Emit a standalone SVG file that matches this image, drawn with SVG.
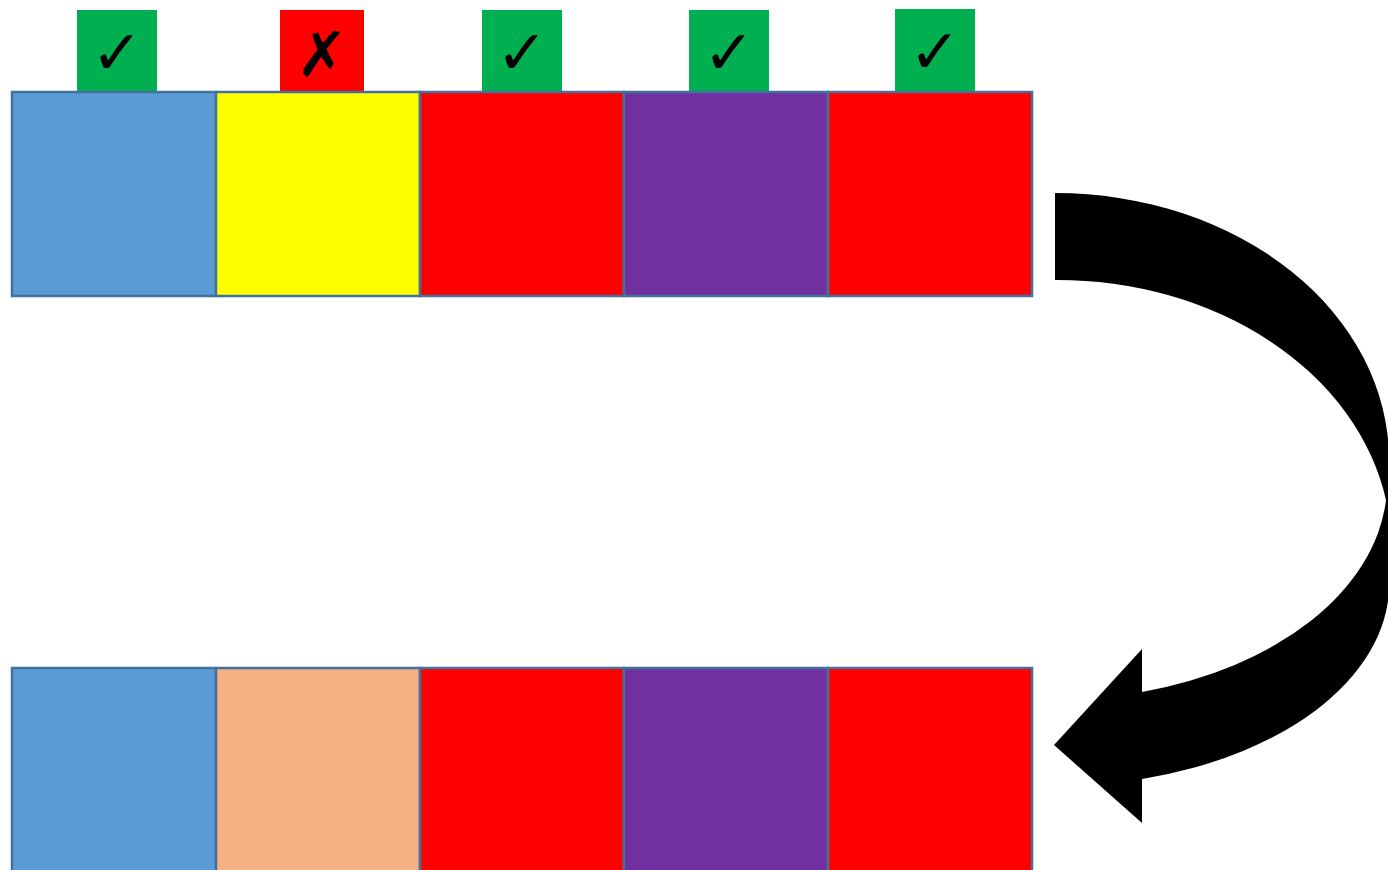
<svg xmlns="http://www.w3.org/2000/svg" width="1388" height="870" viewBox="0 0 1388 870">
<style>
.cell{stroke:#41719C;stroke-width:2.5}
.tab{stroke:none}
.mark{font-family:"DejaVu Sans",sans-serif;font-size:62px;fill:#000;text-anchor:middle}
</style>
<rect width="1388" height="870" fill="#fff"/>
<g id="tab1"><rect class="tab" x="77" y="10" width="80" height="83" fill="#00B050"/><text class="mark" x="117" y="74">✓</text></g>
<g id="tab2"><rect class="tab" x="280" y="10" width="84" height="83" fill="#FF0000"/><text class="mark" x="322" y="76">✗</text></g>
<g id="tab3"><rect class="tab" x="482" y="10" width="80" height="83" fill="#00B050"/><text class="mark" x="522" y="74">✓</text></g>
<g id="tab4"><rect class="tab" x="689" y="10" width="80" height="83" fill="#00B050"/><text class="mark" x="729" y="74">✓</text></g>
<g id="tab5"><rect class="tab" x="895" y="9" width="80" height="83" fill="#00B050"/><text class="mark" x="935" y="73">✓</text></g>
<g id="top-row">
<rect id="t1" class="cell" x="12" y="92" width="204" height="204" fill="#5B9BD5"/>
<rect id="t2" class="cell" x="216" y="92" width="204" height="204" fill="#FFFF00"/>
<rect id="t3" class="cell" x="420" y="92" width="204" height="204" fill="#FF0000"/>
<rect id="t4" class="cell" x="624" y="92" width="204" height="204" fill="#7030A0"/>
<rect id="t5" class="cell" x="828" y="92" width="204" height="204" fill="#FF0000"/>
</g>
<g id="bottom-row">
<rect id="b1" class="cell" x="12" y="668" width="204" height="220" fill="#5B9BD5"/>
<rect id="b2" class="cell" x="216" y="668" width="204" height="220" fill="#F4B183"/>
<rect id="b3" class="cell" x="420" y="668" width="204" height="220" fill="#FF0000"/>
<rect id="b4" class="cell" x="624" y="668" width="204" height="220" fill="#7030A0"/>
<rect id="b5" class="cell" x="828" y="668" width="204" height="220" fill="#FF0000"/>
</g>
<g id="connectors">
<path id="curved-arrow" fill="#000" d="M 1055 193 A 334 267 0 0 1 1389 460 L 1389 578 A 334 202 0 0 1 1142 779 L 1142 823 L 1054 745 L 1142 649 L 1142 692 A 334 217 0 0 0 1386 500 A 334 267 0 0 0 1055 280 Z"/>
</g>
</svg>
